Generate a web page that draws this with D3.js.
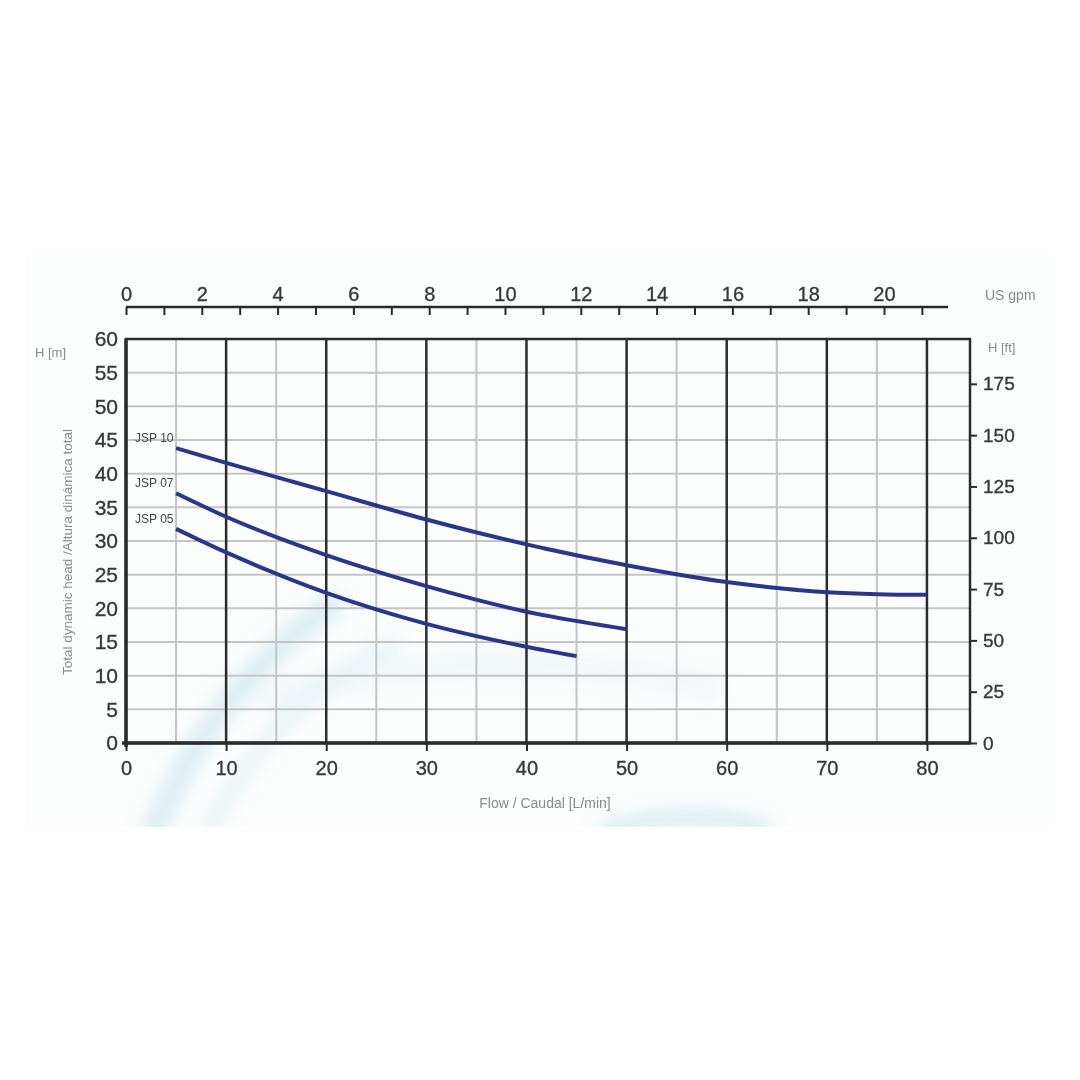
<!DOCTYPE html>
<html>
<head>
<meta charset="utf-8">
<script src="https://cdn.jsdelivr.net/npm/d3@7"></script>
<style>
  html, body { margin: 0; padding: 0; background: #fff; }
  svg { display: block; font-family: "Liberation Sans", Arial, Helvetica, sans-serif; }
</style>
</head>
<body>
<svg id="chart" width="1080" height="1080"></svg>
<script>
// pump curves, flow in L/min, head in m
const jsp10 = [[5, 43.8], [10, 41.6], [20, 37.4], [30, 33.2], [40, 29.5], [50, 26.4], [60, 23.9], [70, 22.4], [75, 22.1], [80, 22.0]];
const jsp07 = [[5, 37.1], [10, 33.6], [20, 27.9], [30, 23.3], [40, 19.5], [50, 16.9]];
const jsp05 = [[5, 31.8], [10, 28.3], [20, 22.3], [30, 17.7], [40, 14.3], [45, 12.9]];
const seriesNames = ['JSP 10', 'JSP 07', 'JSP 05'];

const flowTicks = [0, 10, 20, 30, 40, 50, 60, 70, 80];
const headTicks = [0, 5, 10, 15, 20, 25, 30, 35, 40, 45, 50, 55, 60];
const feetTicks = [0, 25, 50, 75, 100, 125, 150, 175];
const gpmTicks = d3.range(0, 22);

const LPM_PER_GPM = 3.78541;
const FT_PER_M = 3.28084;

const svg = d3.select('#chart');

const cs = {
  left: 126, right: 970, top: 339, bottom: 743,
  flowMax: 84.3,
  palette: { line: '#28378b', dark: '#2b2b2b', grid: '#c4c4c4', text: '#383838', label: '#8a8a8a' },
};

// faint backdrop with soft swooshes
const defs = svg.append('defs');
defs.append('filter').attr('id', 'blur').append('feGaussianBlur').attr('stdDeviation', 9);
svg.append('rect').attr('x', 25).attr('y', 255).attr('width', 1025).attr('height', 571).attr('fill', '#fcfdfd');
const swoosh = svg.append('g').attr('filter', 'url(#blur)').attr('fill', 'none');
swoosh.append('path').attr('d', 'M150,840 C190,740 250,660 340,600').attr('stroke', '#b9dfe6').attr('stroke-width', 22).attr('opacity', 0.55);
swoosh.append('path').attr('d', 'M205,840 C240,760 300,690 400,640').attr('stroke', '#d3ebf0').attr('stroke-width', 16).attr('opacity', 0.5);
swoosh.append('path').attr('d', 'M260,700 C400,660 560,650 720,690').attr('stroke', '#e3f1f4').attr('stroke-width', 30).attr('opacity', 0.4);
swoosh.append('path').attr('d', 'M600,832 C650,815 720,812 770,830').attr('stroke', '#a9d5df').attr('stroke-width', 10).attr('opacity', 0.7);
svg.append('rect').attr('x', 0).attr('y', 827).attr('width', 1080).attr('height', 253).attr('fill', '#fff');

const x = d3.scaleLinear().domain([0, cs.flowMax]).range([cs.left, cs.right]);
const y = d3.scaleLinear().domain([0, 60]).range([cs.bottom, cs.top]);
const yFt = d3.scaleLinear().domain([0, 60 * FT_PER_M]).range([cs.bottom, cs.top]);
const xGpm = d3.scaleLinear().domain([0, cs.flowMax / LPM_PER_GPM]).range([cs.left, cs.right]);

// grid
const grid = svg.append('g');
grid.selectAll('line.h').data(headTicks.slice(1, -1)).enter().append('line')
  .attr('x1', cs.left).attr('x2', cs.right)
  .attr('y1', d => y(d)).attr('y2', d => y(d))
  .attr('stroke', cs.palette.grid).attr('stroke-width', 2);
grid.selectAll('line.minor').data(flowTicks.slice(0, -1).map(d => d + 5)).enter().append('line')
  .attr('x1', d => x(d)).attr('x2', d => x(d))
  .attr('y1', cs.top).attr('y2', cs.bottom)
  .attr('stroke', cs.palette.grid).attr('stroke-width', 2);
grid.selectAll('line.major').data(flowTicks.slice(1)).enter().append('line')
  .attr('x1', d => x(d)).attr('x2', d => x(d))
  .attr('y1', cs.top).attr('y2', cs.bottom)
  .attr('stroke', cs.palette.dark).attr('stroke-width', 2.5);

// frame
svg.append('rect').attr('x', cs.left).attr('y', cs.top)
  .attr('width', cs.right - cs.left).attr('height', cs.bottom - cs.top)
  .attr('fill', 'none').attr('stroke', cs.palette.dark).attr('stroke-width', 2.5);
svg.append('line').attr('x1', cs.left - 4).attr('x2', cs.right)
  .attr('y1', cs.bottom).attr('y2', cs.bottom)
  .attr('stroke', cs.palette.dark).attr('stroke-width', 3.5);
svg.append('line').attr('x1', cs.left).attr('x2', cs.left)
  .attr('y1', cs.top).attr('y2', cs.bottom + 4)
  .attr('stroke', cs.palette.dark).attr('stroke-width', 3.5);

const styleAxis = (g, size) => {
  g.select('.domain').remove();
  g.selectAll('.tick line').attr('stroke', cs.palette.dark).attr('stroke-width', 2);
  g.selectAll('.tick text').attr('fill', cs.palette.text).attr('font-size', size)
    .attr('font-family', '"Liberation Sans", Arial, sans-serif')
    .attr('stroke', cs.palette.text).attr('stroke-width', 0.35);
};

// bottom axis: flow
svg.append('g').attr('transform', `translate(0,${cs.bottom})`)
  .call(d3.axisBottom(x).tickValues(flowTicks).tickSize(8).tickPadding(10))
  .call(g => styleAxis(g, 20));

// left axis: head in m
svg.append('g').attr('transform', `translate(${cs.left - 4},0)`)
  .call(d3.axisLeft(y).tickValues(headTicks).tickSize(0).tickPadding(4))
  .call(g => styleAxis(g, 21));

// right axis: head in ft
svg.append('g').attr('transform', `translate(${cs.right},0)`)
  .call(d3.axisRight(yFt).tickValues(feetTicks).tickSize(7).tickPadding(6))
  .call(g => styleAxis(g, 19));

// top axis: US gpm
const gpmAxis = svg.append('g').attr('transform', 'translate(0,307)');
gpmAxis.append('line').attr('x1', cs.left).attr('x2', 948).attr('y1', 0).attr('y2', 0)
  .attr('stroke', cs.palette.dark).attr('stroke-width', 2.5);
gpmAxis.append('g')
  .call(d3.axisBottom(xGpm).tickValues(gpmTicks).tickSize(8).tickFormat(''))
  .call(g => styleAxis(g, 19));
gpmAxis.append('g')
  .call(d3.axisTop(xGpm).tickValues(gpmTicks.filter(d => d % 2 === 0 && d <= 20)).tickSize(0).tickPadding(6))
  .call(g => styleAxis(g, 20));

// curves
const line = d3.line().x(d => x(d[0])).y(d => y(d[1])).curve(d3.curveMonotoneX);
const curves = [jsp10, jsp07, jsp05];
svg.append('g').selectAll('path').data(curves).enter().append('path')
  .attr('d', line)
  .attr('fill', 'none')
  .attr('stroke', cs.palette.line)
  .attr('stroke-width', 4)
  .attr('stroke-linecap', 'butt');
svg.append('g').selectAll('text').data(curves).enter().append('text')
  .attr('x', x(0.9))
  .attr('y', d => y(d[0][1]) - 6)
  .attr('fill', '#444')
  .attr('font-size', 12)
  .text((d, i) => seriesNames[i]);

// axis titles
const label = (txt, px, py, anchor, size) => svg.append('text')
  .attr('x', px).attr('y', py).attr('text-anchor', anchor)
  .attr('fill', cs.palette.label).attr('font-size', size).text(txt);
label('US gpm', 985, 300, 'start', 14);
label('H [m]', 35, 357, 'start', 13);
label('H [ft]', 988, 352, 'start', 13);
label('Flow / Caudal [L/min]', 545, 808, 'middle', 14);
svg.append('text')
  .attr('transform', 'translate(72,552) rotate(-90)')
  .attr('text-anchor', 'middle')
  .attr('fill', cs.palette.label).attr('font-size', 13.5)
  .text('Total dynamic head /Altura dinámica total');
</script>
</body>
</html>
